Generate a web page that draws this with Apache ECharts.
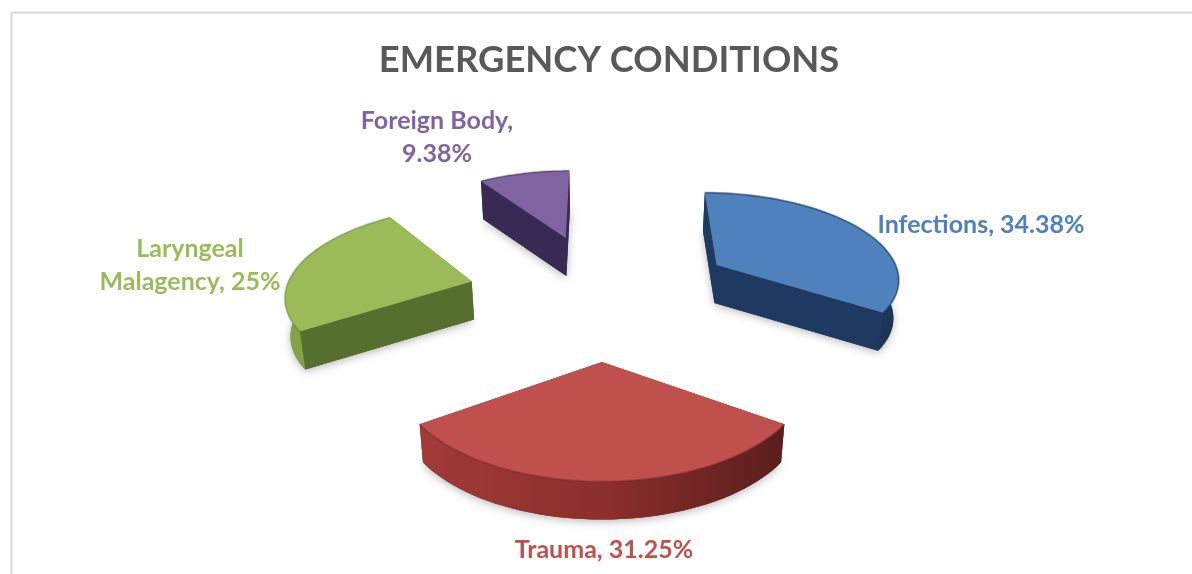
<!DOCTYPE html>
<html>
<head>
<meta charset="utf-8">
<title>Emergency conditions</title>
<style>
  html, body { margin: 0; background: #fff; }
  #chart { width: 1192px; height: 574px; }
</style>
<script src="https://cdn.jsdelivr.net/npm/echarts@6/dist/echarts.min.js"></script>
</head>
<body>
<div id="chart"></div>
<script>
const categories = ["Infections", "Trauma", "Laryngeal Malagency", "Foreign Body"];
const shares = [34.38, 31.25, 25, 9.38];
const labelTexts = ["Infections, 34.38%", "Trauma, 31.25%", "Laryngeal\nMalagency, 25%", "Foreign Body,\n9.38%"];

const labelPositions = [[981, 225], [604, 550], [190, 265], [437, 137]];
const topColors = ["#4f81bd", "#c0504d", "#9bbb59", "#8064a2"];
const cutColors = ["#1f3a60", "#7a2a28", "#566e2e", "#392a55"];
const arcColors = [
  ["#1f3a60", "#1c3557"],
  ["#a23a38", "#8b2f2c", "#5a1e1c"],
  ["#86a545", "#6f8c38"],
  ["#392a55", "#392a55"]
];
const rimColors = ["rgba(31,58,96,0.55)", "rgba(122,42,40,0.4)", "rgba(86,110,46,0.3)", "rgba(57,42,85,0.4)"];

// tilted pie, lengths are in units of the slice explosion
const CENTER_X = 602;
const CENTER_Y = 293.5;
const SCALE_X = 135;
const SCALE_Y = 62.7;
const PERSPECTIVE = 0.085;
const RADIUS_X = 1.38;
const RADIUS_Y = 1.39;
const DEPTH = 38;
const BOTTOM_SHRINK = 0.982;

function project(x, y, isBottom) {
  const s = 1 / (1 + PERSPECTIVE * y);
  let px = CENTER_X + SCALE_X * x * s;
  let py = CENTER_Y - SCALE_Y * y * s;
  if (isBottom) {
    px = CENTER_X + (px - CENTER_X) * BOTTOM_SHRINK;
    py += DEPTH;
  }
  return [px, py];
}

function renderSlice(params, api) {
  const i = params.dataIndex;
  const total = shares.reduce((a, b) => a + b, 0);
  const before = shares.slice(0, i).reduce((a, b) => a + b, 0);
  const start = (before / total) * Math.PI * 2;
  const end = ((before + api.value(0)) / total) * Math.PI * 2;
  const mid = (start + end) / 2;
  const ox = Math.sin(mid);
  const oy = Math.cos(mid);

  const rimAngles = [];
  const steps = 48;
  for (let k = 0; k <= steps; k++) {
    rimAngles.push(start + ((end - start) * k) / steps);
  }
  const rim = (isBottom) =>
    rimAngles.map((a) => project(ox + RADIUS_X * Math.sin(a), oy + RADIUS_Y * Math.cos(a), isBottom));

  const topRim = rim(false);
  const bottomRim = rim(true);
  const apexTop = project(ox, oy, false);
  const apexBottom = project(ox, oy, true);
  const arcStops = arcColors[i].map((color, n) => ({ offset: n / (arcColors[i].length - 1), color }));

  const children = [
    {
      type: "polygon",
      shape: { points: [apexBottom, ...bottomRim] },
      style: { fill: cutColors[i], shadowBlur: 9, shadowColor: "rgba(0,0,0,0.28)", shadowOffsetY: 2 }
    },
    {
      type: "polygon",
      shape: { points: [apexTop, topRim[0], bottomRim[0], apexBottom] },
      style: { fill: cutColors[i] }
    },
    {
      type: "polygon",
      shape: { points: [apexTop, topRim[steps], bottomRim[steps], apexBottom] },
      style: { fill: cutColors[i] }
    },
    {
      type: "polygon",
      shape: { points: [...topRim, ...bottomRim.slice().reverse()] },
      style: { fill: new echarts.graphic.LinearGradient(0, 0, 1, 0, arcStops) }
    },
    {
      type: "polygon",
      shape: { points: [apexTop, ...topRim] },
      style: { fill: topColors[i] }
    },
    {
      // soft bevel along the outer edge of the top face
      type: "polyline",
      shape: { points: topRim },
      style: { fill: null, stroke: rimColors[i], lineWidth: 2 }
    },
    {
      type: "text",
      style: {
        x: labelPositions[i][0],
        y: labelPositions[i][1],
        text: labelTexts[i],
        fill: topColors[i],
        font: "bold 25px Lato",
        lineHeight: 33,
        align: "center",
        verticalAlign: "middle"
      }
    }
  ];
  return { type: "group", children };
}

const chart = echarts.init(document.getElementById("chart"));
chart.setOption({
  animation: false,
  backgroundColor: "#ffffff",
  title: {
    text: "EMERGENCY CONDITIONS",
    left: 604,
    top: 37,
    textAlign: "center",
    textStyle: { fontFamily: "Lato", fontWeight: "bold", fontSize: 36.4, color: "#595959" }
  },
  graphic: [
    { type: "line", shape: { x1: 11.5, y1: 12.5, x2: 1192, y2: 12.5 }, style: { stroke: "#d9d9d9", lineWidth: 2 } },
    { type: "line", shape: { x1: 11.5, y1: 12.5, x2: 11.5, y2: 574 }, style: { stroke: "#d9d9d9", lineWidth: 2 } }
  ],
  series: [
    {
      type: "custom",
      coordinateSystem: "none",
      renderItem: renderSlice,
      data: shares.map((value, i) => ({ name: categories[i], value: [value] }))
    }
  ]
});
</script>
</body>
</html>
